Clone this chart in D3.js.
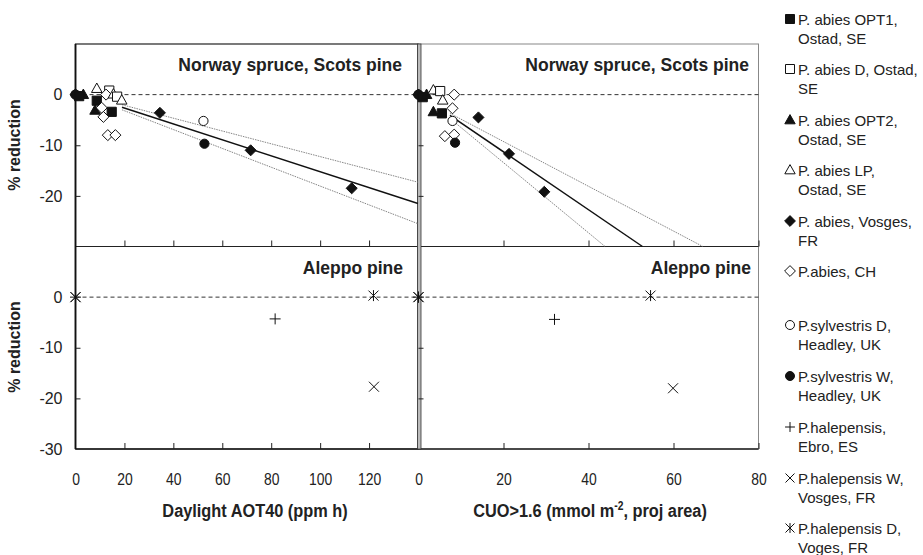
<!DOCTYPE html>
<html>
<head>
<meta charset="utf-8">
<script src="https://cdn.jsdelivr.net/npm/d3@7"></script>
<style>
  body { margin: 0; background: #fff; }
  svg text { font-family: "Liberation Sans", Arial, sans-serif; fill: #222; }
</style>
</head>
<body>
<div id="chart"></div>
<script>
var width = 923,
    height = 555;

// legend entries: [marker, line1, line2]
var legendItems = [
  ["squareF", "P. abies OPT1,", "Ostad, SE"],
  ["squareO", "P. abies D, Ostad,", "SE"],
  ["triF", "P. abies OPT2,", "Ostad, SE"],
  ["triO", "P. abies LP,", "Ostad, SE"],
  ["diaF", "P. abies, Vosges,", "FR"],
  ["diaO", "P.abies, CH", ""],
  ["circO", "P.sylvestris D,", "Headley, UK"],
  ["circF", "P.sylvestris W,", "Headley, UK"],
  ["plus", "P.halepensis,", "Ebro, ES"],
  ["cross", "P.halepensis W,", "Vosges, FR"],
  ["star", "P.halepensis D,", "Voges, FR"]
];

// points: [series index, x, % reduction]
var spruceAot = [
  [4, 0, 0], [6, 0, 0], [7, 0, 0], [2, 3.2, 0], [0, 1.5, -0.3],
  [3, 8.7, 1.2], [1, 13.8, 0.8], [5, 12.5, 0], [3, 15.5, 0.1], [1, 17, -0.4], [3, 18.9, -1.1],
  [0, 8.7, -1.2], [2, 8, -3.1], [5, 10.7, -2.6], [0, 14.8, -3.4], [5, 11.4, -4.4],
  [5, 13.2, -8.0], [5, 16.3, -8.0],
  [4, 34.5, -3.6], [4, 71.6, -11.0], [4, 112.9, -18.5],
  [6, 52.3, -5.2], [7, 52.7, -9.7]
];
var spruceCuo = [
  [4, 0, 0], [6, 0, 0], [7, 0, 0], [0, 1, -0.5], [2, 1.9, 0],
  [3, 3.5, 0.9], [1, 5.1, 0.7], [5, 8.4, 0], [3, 5.7, -1.1],
  [2, 3.5, -3.4], [0, 5.5, -3.7], [5, 8.0, -2.7], [6, 8.0, -5.2],
  [5, 6.2, -8.2], [5, 8.4, -7.9], [7, 8.6, -9.5],
  [4, 14.1, -4.5], [4, 21.3, -11.7], [4, 29.6, -19.2]
];
var aleppoAot = [[8, 0, 0], [9, 0, 0], [10, 0, 0], [8, 81.6, -4.3], [9, 122, -17.7], [10, 121.8, 0.3]];
var aleppoCuo = [[8, 0, 0], [9, 0, 0], [10, 0, 0], [8, 32, -4.4], [9, 59.9, -18.0], [10, 54.6, 0.3]];

// regression line and confidence band
var aotFit = [[19, -2.5], [140, -21.5]];
var aotUpper = [[19, -2.0], [140, -17.3]];
var aotLower = [[19, -3.0], [140, -25.5]];
var cuoFit = [[7.4, -4.1], [52.7, -30]];
var cuoUpper = [[7.4, -3.7], [66.9, -30]];
var cuoLower = [[7.4, -4.7], [43.9, -30]];

var aotTicks = [0, 20, 40, 60, 80, 100, 120];
var cuoTicks = [0, 20, 40, 60, 80];

var svg = d3.select("#chart").append("svg")
    .attr("width", width)
    .attr("height", height);

var xAot = d3.scaleLinear().domain([0, 140]).range([75.5, 418]);
var xCuo = d3.scaleLinear().domain([0, 80]).range([418.5, 758.5]);
var yTop = d3.scaleLinear().domain([-30, 10]).range([246.5, 44]);
var yBot = d3.scaleLinear().domain([-30, 10]).range([449, 246.5]);

function markerPath(type, s) {
  if (type.indexOf("square") == 0) return "M" + (-s) + "," + (-s) + "h" + 2 * s + "v" + 2 * s + "h" + (-2 * s) + "Z";
  if (type.indexOf("tri") == 0) return "M0," + (-s * 1.2) + "L" + s * 1.15 + "," + s * 0.85 + "L" + (-s * 1.15) + "," + s * 0.85 + "Z";
  if (type.indexOf("dia") == 0) return "M0," + (-s * 1.2) + "L" + s * 1.2 + ",0L0," + s * 1.2 + "L" + (-s * 1.2) + ",0Z";
  if (type == "plus") return "M" + (-s * 1.1) + ",0H" + s * 1.1 + "M0," + (-s * 1.1) + "V" + s * 1.1;
  if (type == "cross") return "M" + (-s) + "," + (-s) + "L" + s + "," + s + "M" + (-s) + "," + s + "L" + s + "," + (-s);
  if (type == "star") return "M" + (-s) + "," + (-s) + "L" + s + "," + s + "M" + (-s) + "," + s + "L" + s + "," + (-s) + "M0," + (-s * 1.1) + "V" + s * 1.1;
  return null;
}

function drawMarker(g, type, x, y, s) {
  var filled = type.slice(-1) == "F";
  if (type.indexOf("circ") == 0) {
    g.append("circle").attr("cx", x).attr("cy", y).attr("r", s)
      .attr("fill", filled ? "#111" : "#fff").attr("stroke", "#111").attr("stroke-width", 1);
  } else {
    var line = (type == "plus" || type == "cross" || type == "star");
    g.append("path").attr("d", markerPath(type, s))
      .attr("transform", "translate(" + x + "," + y + ")")
      .attr("fill", line ? "none" : (filled ? "#111" : "#fff"))
      .attr("stroke", "#111").attr("stroke-width", 1);
  }
}

function panel(x, y, titleText, titleRight, ticksLabelled, tickVals) {
  var g = svg.append("g");
  var x0 = x.range()[0], x1 = x.range()[1];
  var y0 = y.range()[1], y1 = y.range()[0];

  // zero reference
  g.append("line")
    .attr("x1", x0).attr("x2", x1)
    .attr("y1", y(0)).attr("y2", y(0))
    .attr("stroke", "#333").attr("stroke-dasharray", "4,3").attr("stroke-width", 1);

  // inward ticks on bottom
  var xa = d3.axisBottom(x).tickValues(tickVals.filter(function(d) { return d > 0; }))
      .tickSizeInner(-6).tickSizeOuter(0).tickFormat("");
  g.append("g").attr("transform", "translate(0," + y1 + ")").call(xa)
    .call(function(a) { a.select(".domain").remove(); a.selectAll("line").attr("stroke", "#222"); });

  // inward ticks on left
  var ya = d3.axisLeft(y).tickValues([-10, -20]).tickSizeInner(-5).tickSizeOuter(0).tickFormat("");
  g.append("g").attr("transform", "translate(" + x0 + ",0)").call(ya)
    .call(function(a) { a.select(".domain").remove(); a.selectAll("line").attr("stroke", "#222"); });

  if (ticksLabelled) {
    var xl = d3.axisBottom(x).tickValues(tickVals).tickSize(0).tickPadding(24);
    g.append("g").attr("transform", "translate(0," + y1 + ")").call(xl)
      .call(function(a) {
        a.select(".domain").remove();
        a.selectAll("text").attr("font-size", 17).attr("fill", "#222")
          .attr("transform", "scale(0.82,1)");
      });
  }

  g.append("text")
    .attr("x", titleRight).attr("y", y0 + 27)
    .attr("text-anchor", "end")
    .attr("font-size", 17.5).attr("font-weight", "bold")
    .text(titleText);
  return g;
}

// frames
svg.append("rect").attr("x", 75.5).attr("y", 44).attr("width", 342.5).attr("height", 405)
  .attr("fill", "none").attr("stroke", "#222").attr("stroke-width", 1.2);
svg.append("rect").attr("x", 418).attr("y", 44).attr("width", 340.5).attr("height", 405)
  .attr("fill", "none").attr("stroke", "#888").attr("stroke-width", 1);
svg.append("line").attr("x1", 75.5).attr("x2", 758.5).attr("y1", 246.5).attr("y2", 246.5)
  .attr("stroke", "#222").attr("stroke-width", 1.2);
svg.append("line").attr("x1", 75.5).attr("x2", 758.5).attr("y1", 449).attr("y2", 449)
  .attr("stroke", "#222").attr("stroke-width", 1.5);
svg.append("line").attr("x1", 75.5).attr("x2", 75.5).attr("y1", 44).attr("y2", 449)
  .attr("stroke", "#111").attr("stroke-width", 1.8);
svg.append("rect").attr("x", 417.5).attr("y", 44).attr("width", 3.5).attr("height", 405)
  .attr("fill", "#bbb").attr("stroke", "#333").attr("stroke-width", 0.8);

var pTL = panel(xAot, yTop, "Norway spruce, Scots pine", 402, false, aotTicks);
var pTR = panel(xCuo, yTop, "Norway spruce, Scots pine", 749, false, cuoTicks);
var pBL = panel(xAot, yBot, "Aleppo pine", 403, true, aotTicks);
var pBR = panel(xCuo, yBot, "Aleppo pine", 751, true, cuoTicks);

// y tick labels
[[yTop, [0, -10, -20]], [yBot, [0, -10, -20, -30]]].forEach(function(p) {
  var ax = d3.axisLeft(p[0]).tickValues(p[1]).tickSize(0).tickPadding(13).tickFormat(d3.format("d"));
  svg.append("g").attr("transform", "translate(75.5,0)").call(ax)
    .call(function(a) {
      a.select(".domain").remove();
      a.selectAll("text").attr("font-size", 16).attr("fill", "#222")
        .text(function(d) { return d < 0 ? "-" + Math.abs(d) : d; });
    });
});

// y titles
[145, 347].forEach(function(cy) {
  svg.append("text")
    .attr("transform", "translate(20," + cy + ") rotate(-90)")
    .attr("text-anchor", "middle")
    .attr("font-size", 16).attr("font-weight", "bold")
    .text("% reduction");
});

// x titles (condensed look)
var t1 = svg.append("g").attr("transform", "translate(255,517) scale(0.86,1)");
t1.append("text").attr("text-anchor", "middle")
  .attr("font-size", 19).attr("font-weight", "bold")
  .text("Daylight AOT40 (ppm h)");
var t2 = svg.append("g").attr("transform", "translate(590,517) scale(0.86,1)");
var cuoTitle = t2.append("text").attr("text-anchor", "middle")
  .attr("font-size", 19).attr("font-weight", "bold");
cuoTitle.append("tspan").text("CUO>1.6 (mmol m");
cuoTitle.append("tspan").attr("font-size", 12).attr("dy", -7).text("-2");
cuoTitle.append("tspan").attr("dy", 7).text(", proj area)");

// fitted lines
var lineAot = d3.line().x(function(d) { return xAot(d[0]); }).y(function(d) { return yTop(d[1]); });
var lineCuo = d3.line().x(function(d) { return xCuo(d[0]); }).y(function(d) { return yTop(d[1]); });

[[pTL, lineAot, aotUpper, aotLower, aotFit], [pTR, lineCuo, cuoUpper, cuoLower, cuoFit]].forEach(function(p) {
  [p[2], p[3]].forEach(function(band) {
    p[0].append("path").attr("d", p[1](band))
      .attr("fill", "none").attr("stroke", "#777").attr("stroke-width", 0.9)
      .attr("stroke-dasharray", "1.5,1");
  });
  p[0].append("path").attr("d", p[1](p[4]))
    .attr("fill", "none").attr("stroke", "#111").attr("stroke-width", 1.5);
});

// markers
function plotPoints(g, pts, x, y) {
  pts.forEach(function(d) {
    var type = legendItems[d[0]][0];
    var s = (type == "plus" || type == "cross" || type == "star") ? 5 : 4.6;
    drawMarker(g, type, x(d[1]), y(d[2]), s);
  });
}
plotPoints(pTL, spruceAot, xAot, yTop);
plotPoints(pTR, spruceCuo, xCuo, yTop);
plotPoints(pBL, aleppoAot, xAot, yBot);
plotPoints(pBR, aleppoCuo, xCuo, yBot);

// legend
var legendY = [19, 69, 120, 170, 221, 271, 325, 376, 427, 478, 528];
var leg = svg.append("g");
legendItems.forEach(function(d, i) {
  var yy = legendY[i];
  drawMarker(leg, d[0], 790, yy, 4.5);
  leg.append("text").attr("x", 798).attr("y", yy + 5.5)
    .attr("font-size", 15).attr("fill", "#333").text(d[1]);
  if (d[2]) {
    leg.append("text").attr("x", 798).attr("y", yy + 24.5)
      .attr("font-size", 15).attr("fill", "#333").text(d[2]);
  }
});
</script>
</body>
</html>
